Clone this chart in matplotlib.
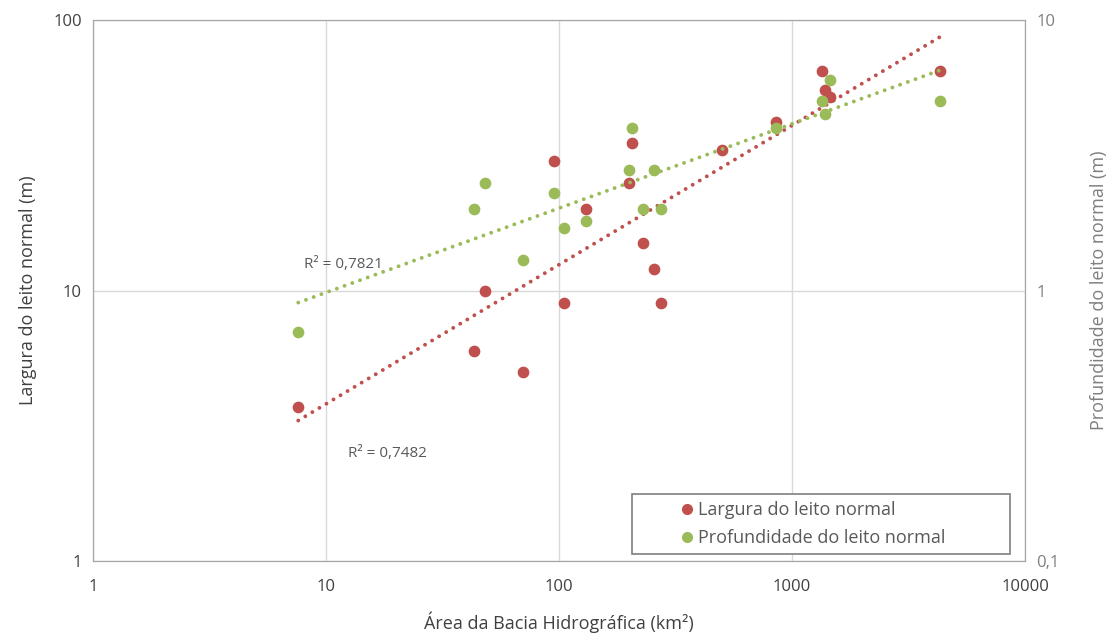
import numpy as np
import matplotlib
matplotlib.use('Agg')
import matplotlib.pyplot as plt
from matplotlib.lines import Line2D
from matplotlib.patches import Rectangle

# Área da bacia (km²)
area_largura = [7.6, 43, 48, 70, 95, 105, 130, 205, 200, 230, 255, 275,
                500, 850, 1350, 1380, 1450, 4300]
largura = [3.7, 6.0, 10, 5.0, 30, 9.0, 20, 35, 25, 15, 12, 9.0,
           33, 42, 65, 55, 52, 65]

area_prof = [7.6, 43, 48, 70, 95, 105, 130, 205, 200, 230, 255, 275,
             850, 1350, 1380, 1450, 4300]
profundidade = [0.70, 2.0, 2.5, 1.3, 2.3, 1.7, 1.8, 4.0, 2.8, 2.0, 2.8, 2.0,
                4.0, 5.0, 4.5, 6.0, 5.0]

r2_largura = '0,7482'
r2_prof = '0,7821'

RED = '#C0504D'
GREEN = '#9BBB59'
TXT = '#404040'
GRID = '#D9D9D9'
DOTS = (0, (0.01, 2.1))

plt.rcParams['font.family'] = ['Open Sans', 'DejaVu Sans']


def power_fit(x, y):
    b, a = np.polyfit(np.log10(x), np.log10(y), 1)
    xs = np.logspace(np.log10(min(x)), np.log10(max(x)), 50)
    return xs, 10 ** a * xs ** b


fig = plt.figure(figsize=(11.06, 6.35), dpi=100)
ax = fig.add_axes([0.0841, 0.1165, 0.8427, 0.852])
ax2 = ax.twinx()

ax.set_xscale('log')
ax.set_yscale('log')
ax2.set_yscale('log')
ax.set_xlim(1, 10000)
ax.set_ylim(1, 100)
ax2.set_ylim(0.1, 10)

ax.grid(True, which='major', color=GRID, linewidth=1)
ax.set_axisbelow(True)
for a in (ax, ax2):
    for s in a.spines.values():
        s.set_color('#A6A6A6')
    a.tick_params(which='both', length=0)
    a.minorticks_off()

ax.set_xticks([1, 10, 100, 1000, 10000])
ax.set_xticklabels(['1', '10', '100', '1000', '10000'], fontsize=12, color=TXT)
ax.set_yticks([1, 10, 100])
ax.set_yticklabels(['1', '10', '100'], fontsize=12, color=TXT)
ax2.set_yticks([0.1, 1, 10])
ax2.set_yticklabels(['0,1', '1', '10'], fontsize=12, color='#7F7F7F')
ax.tick_params(axis='x', pad=13)
ax.tick_params(axis='y', pad=8)
ax2.tick_params(axis='y', pad=8)

ax.scatter(area_largura, largura, s=55, color=RED, zorder=3)
xs, ys = power_fit(area_largura, largura)
ax.plot(xs, ys, color=RED, linewidth=2.8, linestyle=DOTS,
        dash_capstyle='round', zorder=2)

ax2.scatter(area_prof, profundidade, s=55, color=GREEN, zorder=3)
xs, ys = power_fit(area_prof, profundidade)
ax2.plot(xs, ys, color=GREEN, linewidth=2.8, linestyle=DOTS,
         dash_capstyle='round', zorder=2)

ax.text(0.226, 0.549, 'R² = ' + r2_prof, transform=ax.transAxes,
        fontsize=11, color='#595959', va='center')
ax.text(0.274, 0.199, 'R² = ' + r2_largura, transform=ax.transAxes,
        fontsize=11, color='#595959', va='center')

ax.set_xlabel('Área da Bacia Hidrográfica (km²)', fontsize=13, color=TXT, labelpad=12)
ax.set_ylabel('Largura do leito normal (m)', fontsize=13, color=TXT, labelpad=12)
ax2.set_ylabel('Profundidade do leito normal (m)', fontsize=13, color='#7F7F7F',
               labelpad=22)

# legenda: moldura larga como no Excel, entradas deslocadas para dentro
frame = Rectangle((0.578, 0.0135), 0.406, 0.11, transform=ax.transAxes,
                  facecolor='white', edgecolor='#7F7F7F', linewidth=1.2, zorder=5)
ax2.add_patch(frame)
handles = [
    Line2D([], [], marker='o', linestyle='none', color=RED, markersize=7,
           label='Largura do leito normal'),
    Line2D([], [], marker='o', linestyle='none', color=GREEN, markersize=7,
           label='Profundidade do leito normal'),
]
leg = ax2.legend(handles=handles, loc='center left', bbox_to_anchor=(0.628, 0.0685),
                 fontsize=13, frameon=False, handletextpad=0.1,
                 borderpad=0, labelspacing=0.55, borderaxespad=0,
                 handlelength=1.0)
leg.set_zorder(6)
for t in leg.get_texts():
    t.set_color('#595959')

fig.savefig('out.png', dpi=100)
